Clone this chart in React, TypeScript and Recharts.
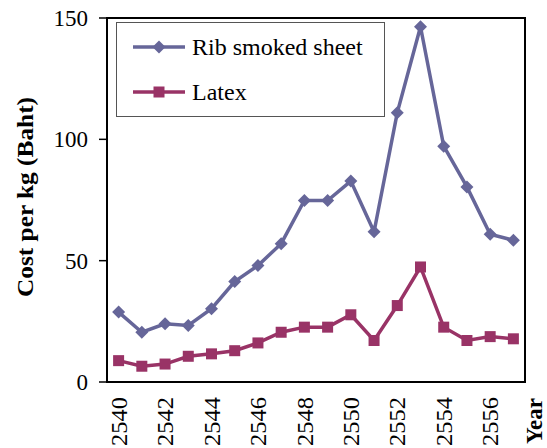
import React from 'react';
import {
  LineChart,
  Line,
  XAxis,
  YAxis,
  ReferenceArea,
} from 'recharts';

// Buddhist-era years on the horizontal axis
const years = [2540, 2541, 2542, 2543, 2544, 2545, 2546, 2547, 2548, 2549, 2550, 2551, 2552, 2553, 2554, 2555, 2556, 2557];
// Cost per kg (Baht)
const ribSmokedSheet = [28.8, 20.5, 24, 23.3, 30.2, 41.4, 48, 57, 74.8, 74.8, 82.8, 61.9, 111, 146.4, 97.2, 80.4, 60.9, 58.4];
const latex = [8.8, 6.5, 7.4, 10.6, 11.6, 12.9, 16.1, 20.5, 22.6, 22.6, 27.7, 17.1, 31.5, 47.4, 22.6, 17.1, 18.7, 17.8];

const yTicks = [0, 50, 100, 150];
const yearLabels = [2540, 2542, 2544, 2546, 2548, 2550, 2552, 2554, 2556];
const seriesNames = ['Rib smoked sheet', 'Latex'];

const RIB_COLOR = '#666699';
const LATEX_COLOR = '#993366';
const FONT = '"Liberation Serif", "Times New Roman", serif';

const data = years.map((year, i) => ({
  year,
  rib: ribSmokedSheet[i],
  latex: latex[i],
}));

// category boundaries, where the tick marks sit
const boundaries = [...years.map((y) => y - 0.5), years[years.length - 1] + 0.5];
const xDomain: [number, number] = [boundaries[0], boundaries[boundaries.length - 1]];

const Diamond = ({ cx, cy, color, r = 6.5 }: any) => (
  <polygon
    points={`${cx},${cy - r} ${cx + r},${cy} ${cx},${cy + r} ${cx - r},${cy}`}
    fill={color}
  />
);

const Square = ({ cx, cy, color, s = 5.5 }: any) => (
  <rect x={cx - s} y={cy - s} width={s * 2} height={s * 2} fill={color} />
);

// rotated year labels, reading bottom-to-top
const YearTick = ({ x, y, payload }: any) => {
  const ty = y - 1;
  return (
    <text
      x={x}
      y={ty}
      transform={`rotate(-90, ${x}, ${ty})`}
      textAnchor="end"
      dy="0.34em"
      fontSize={24}
      fontFamily={FONT}
      fill="#000"
      textLength={49}
      lengthAdjust="spacingAndGlyphs"
    >
      {payload.value}
    </text>
  );
};

const LegendBox = () => (
  <svg
    width={270}
    height={96}
    style={{ position: 'absolute', left: 116, top: 22, display: 'block' }}
  >
    <rect x={0.5} y={0.5} width={268} height={94} fill="#fff" stroke="#555" strokeWidth={1} />
    <line x1={17} y1={25} x2={69} y2={25} stroke={RIB_COLOR} strokeWidth={3.5} />
    <Diamond cx={43} cy={25} color={RIB_COLOR} />
    <text x={76} y={25} dy="0.34em" fontSize={24} fontFamily={FONT} fill="#000">
      {seriesNames[0]}
    </text>
    <line x1={17} y1={70} x2={69} y2={70} stroke={LATEX_COLOR} strokeWidth={3.5} />
    <Square cx={43} cy={70} color={LATEX_COLOR} />
    <text x={76} y={70} dy="0.34em" fontSize={24} fontFamily={FONT} fill="#000">
      {seriesNames[1]}
    </text>
  </svg>
);

export default function App() {
  return (
    <div style={{ position: 'absolute', left: 0, top: 0, width: 547, height: 448, background: '#fff' }}>
      <LineChart
        width={547}
        height={448}
        data={data}
        margin={{ top: 18, right: 22, bottom: 0, left: 0 }}
      >
        <XAxis
          dataKey="year"
          type="number"
          domain={xDomain}
          ticks={boundaries}
          tick={false}
          tickSize={7}
          height={8}
          stroke="#000"
          axisLine={{ stroke: '#000', strokeWidth: 2 }}
          tickLine={{ stroke: '#000', strokeWidth: 1.5 }}
          allowDataOverflow
        />
        <XAxis
          xAxisId="labels"
          dataKey="year"
          type="number"
          domain={xDomain}
          ticks={yearLabels}
          tick={<YearTick />}
          axisLine={false}
          tickLine={false}
          height={58}
          interval={0}
          allowDataOverflow
          label={(props: any) => {
            const vb = props.viewBox || {};
            const x = vb.x + vb.width + 9;
            const y = vb.y + 8;
            return (
              <text
                x={x}
                y={y}
                transform={`rotate(-90, ${x}, ${y})`}
                textAnchor="end"
                dy="0.34em"
                fontSize={23}
                fontWeight="bold"
                fontFamily={FONT}
                fill="#000"
              >
                Year
              </text>
            );
          }}
        />
        <YAxis
          type="number"
          domain={[0, 150]}
          ticks={yTicks}
          width={107}
          tickSize={8}
          tickMargin={11}
          axisLine={{ stroke: '#000', strokeWidth: 2 }}
          tickLine={{ stroke: '#000', strokeWidth: 1.5 }}
          tick={{ fontSize: 23, fontFamily: FONT, fill: '#000' }}
          label={() => {
            const x = 27;
            const y = 197;
            return (
              <text
                x={x}
                y={y}
                transform={`rotate(-90, ${x}, ${y})`}
                textAnchor="middle"
                dy="0.26em"
                fontSize={23}
                fontWeight="bold"
                fontFamily={FONT}
                fill="#000"
                textLength={200}
                lengthAdjust="spacingAndGlyphs"
              >
                Cost per kg (Baht)
              </text>
            );
          }}
        />
        <ReferenceArea
          x1={xDomain[0]}
          x2={xDomain[1]}
          y1={0}
          y2={150}
          fill="none"
          fillOpacity={0}
          stroke="#000"
          strokeWidth={2}
        />
        <Line
          dataKey="rib"
          name={seriesNames[0]}
          stroke={RIB_COLOR}
          strokeWidth={3.5}
          isAnimationActive={false}
          dot={(p: any) => <Diamond key={`d${p.index}`} cx={p.cx} cy={p.cy} color={RIB_COLOR} />}
          activeDot={false}
        />
        <Line
          dataKey="latex"
          name={seriesNames[1]}
          stroke={LATEX_COLOR}
          strokeWidth={3.5}
          isAnimationActive={false}
          dot={(p: any) => <Square key={`s${p.index}`} cx={p.cx} cy={p.cy} color={LATEX_COLOR} />}
          activeDot={false}
        />
      </LineChart>
      <LegendBox />
    </div>
  );
}
